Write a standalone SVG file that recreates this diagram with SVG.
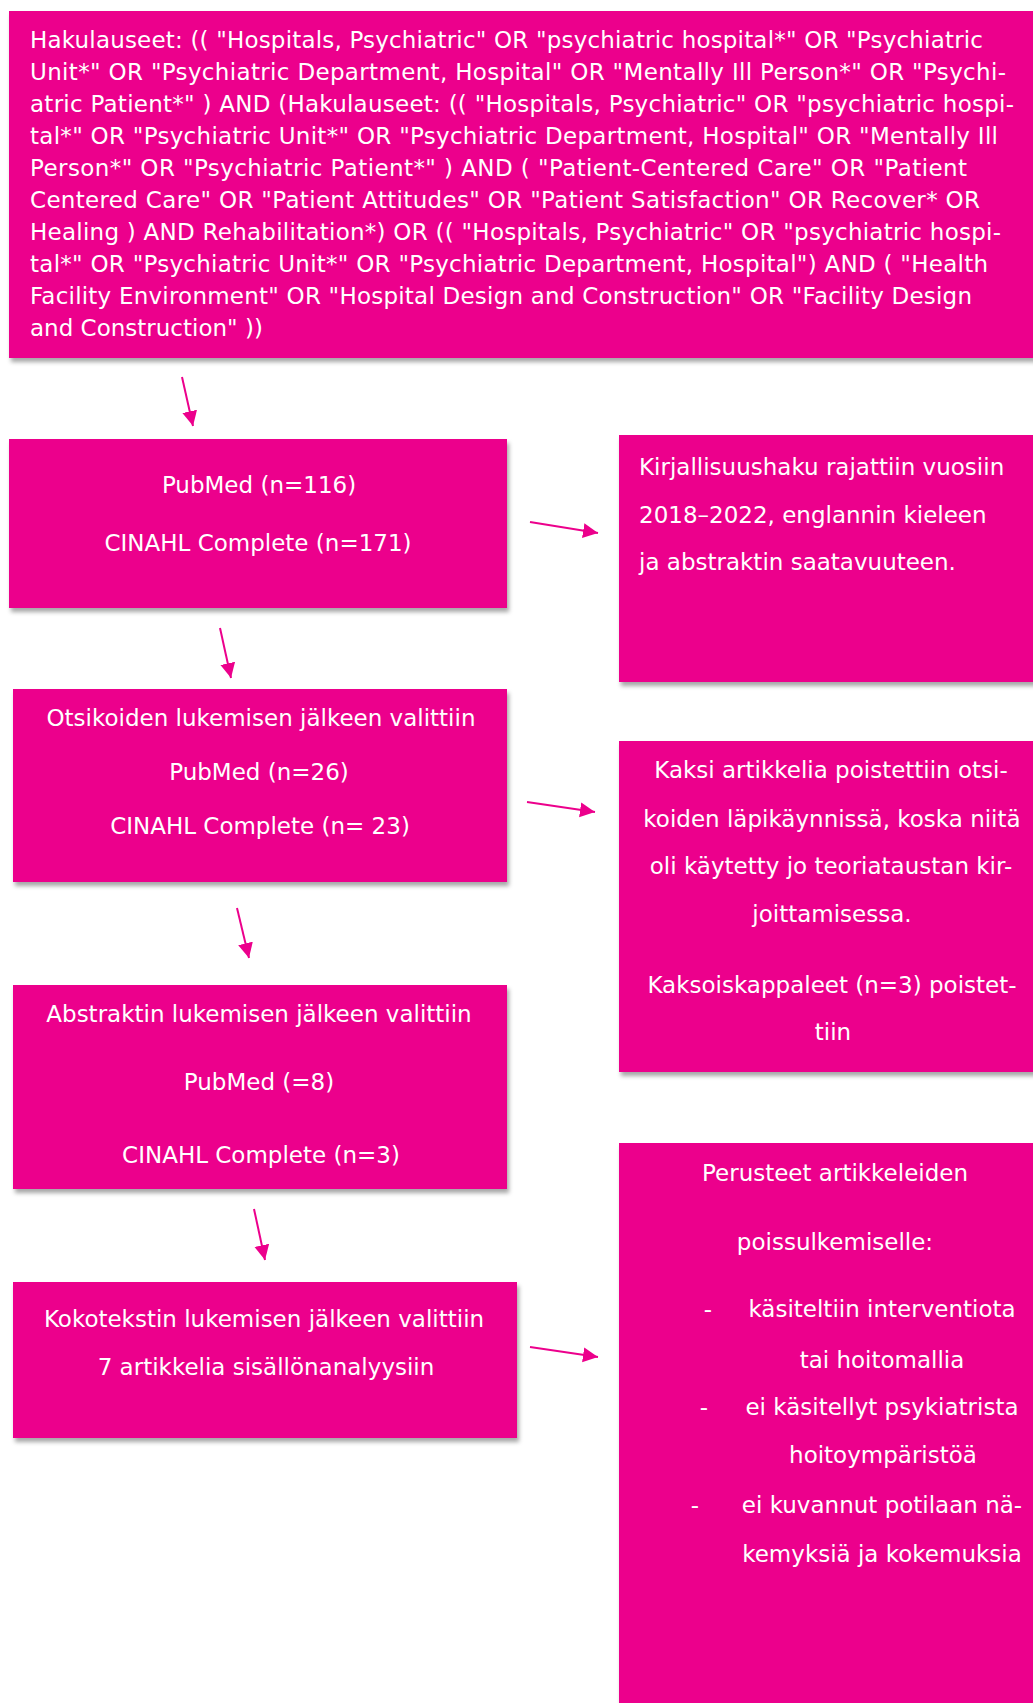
<svg xmlns="http://www.w3.org/2000/svg" width="1033" height="1703" viewBox="0 0 1033 1703">
<style>
.box{fill:#EC008C;filter:url(#sh);}
text{font-family:"DejaVu Sans","Verdana",sans-serif;font-size:23px;fill:#FFFFFF;}
.c{text-anchor:middle;}
.edge{stroke:#EC008C;stroke-width:2;fill:none;marker-end:url(#ah);}
</style>
<defs>
<filter id="sh" x="-5%" y="-5%" width="115%" height="120%">
<feDropShadow dx="2" dy="4" stdDeviation="2" flood-color="#000000" flood-opacity="0.35"/>
</filter>
<marker id="ah" markerUnits="userSpaceOnUse" markerWidth="16" markerHeight="16" refX="15" refY="7.5" orient="auto">
<path d="M0,0 L15,7.5 L0,15 Z" fill="#EC008C"/>
</marker>
</defs>
<rect width="1033" height="1703" fill="#FFFFFF"/>

<g id="search">
<rect class="box" x="9" y="11" width="1030" height="347"/>
<text x="30" y="47.5" textLength="953" lengthAdjust="spacing">Hakulauseet: (( "Hospitals, Psychiatric" OR "psychiatric hospital*" OR "Psychiatric</text>
<text x="30" y="79.6" textLength="976" lengthAdjust="spacing">Unit*" OR "Psychiatric Department, Hospital" OR "Mentally Ill Person*" OR "Psychi-</text>
<text x="30" y="111.7" textLength="984" lengthAdjust="spacing">atric Patient*" ) AND (Hakulauseet: (( "Hospitals, Psychiatric" OR "psychiatric hospi-</text>
<text x="30" y="143.8" textLength="968" lengthAdjust="spacing">tal*" OR "Psychiatric Unit*" OR "Psychiatric Department, Hospital" OR "Mentally Ill</text>
<text x="30" y="175.9" textLength="937" lengthAdjust="spacing">Person*" OR "Psychiatric Patient*" ) AND ( "Patient-Centered Care" OR "Patient</text>
<text x="30" y="208" textLength="950" lengthAdjust="spacing">Centered Care" OR "Patient Attitudes" OR "Patient Satisfaction" OR Recover* OR</text>
<text x="30" y="240.1" textLength="971" lengthAdjust="spacing">Healing ) AND Rehabilitation*) OR (( "Hospitals, Psychiatric" OR "psychiatric hospi-</text>
<text x="30" y="272.2" textLength="958" lengthAdjust="spacing">tal*" OR "Psychiatric Unit*" OR "Psychiatric Department, Hospital") AND ( "Health</text>
<text x="30" y="304.3" textLength="942" lengthAdjust="spacing">Facility Environment" OR "Hospital Design and Construction" OR "Facility Design</text>
<text x="30" y="336.4">and Construction" ))</text>
</g>

<g id="databases">
<rect class="box" x="9" y="439" width="498" height="169"/>
<text class="c" x="259" y="493">PubMed (n=116)</text>
<text class="c" x="258" y="551">CINAHL Complete (n=171)</text>
</g>

<g id="limits">
<rect class="box" x="619" y="435" width="420" height="247"/>
<text x="639" y="475">Kirjallisuushaku rajattiin vuosiin</text>
<text x="639" y="523">2018–2022, englannin kieleen</text>
<text x="639" y="570">ja abstraktin saatavuuteen.</text>
</g>

<g id="titles">
<rect class="box" x="13" y="689" width="494" height="193"/>
<text class="c" x="261" y="726">Otsikoiden lukemisen jälkeen valittiin</text>
<text class="c" x="259" y="780">PubMed (n=26)</text>
<text class="c" x="260" y="834">CINAHL Complete (n= 23)</text>
</g>

<g id="removed">
<rect class="box" x="619" y="741" width="420" height="331"/>
<text class="c" x="831" y="778">Kaksi artikkelia poistettiin otsi-</text>
<text class="c" x="832" y="827">koiden läpikäynnissä, koska niitä</text>
<text class="c" x="831" y="874">oli käytetty jo teoriataustan kir-</text>
<text class="c" x="832" y="922">joittamisessa.</text>
<text class="c" x="832" y="993">Kaksoiskappaleet (n=3) poistet-</text>
<text class="c" x="833" y="1040">tiin</text>
</g>

<g id="abstracts">
<rect class="box" x="13" y="985" width="494" height="204"/>
<text class="c" x="259" y="1022">Abstraktin lukemisen jälkeen valittiin</text>
<text class="c" x="259" y="1090">PubMed (=8)</text>
<text class="c" x="261" y="1163">CINAHL Complete (n=3)</text>
</g>

<g id="exclusion">
<rect class="box" x="619" y="1143" width="420" height="570"/>
<text class="c" x="835" y="1181">Perusteet artikkeleiden</text>
<text class="c" x="835" y="1250">poissulkemiselle:</text>
<text class="c" x="708" y="1317">-</text>
<text class="c" x="882" y="1317">käsiteltiin interventiota</text>
<text class="c" x="882" y="1368">tai hoitomallia</text>
<text class="c" x="704" y="1415">-</text>
<text class="c" x="882" y="1415">ei käsitellyt psykiatrista</text>
<text class="c" x="883" y="1463">hoitoympäristöä</text>
<text class="c" x="695" y="1513">-</text>
<text class="c" x="882" y="1513">ei kuvannut potilaan nä-</text>
<text class="c" x="882" y="1562">kemyksiä ja kokemuksia</text>
</g>

<g id="fulltext">
<rect class="box" x="13" y="1282" width="504" height="156"/>
<text class="c" x="264" y="1327">Kokotekstin lukemisen jälkeen valittiin</text>
<text class="c" x="266" y="1375">7 artikkelia sisällönanalyysiin</text>
</g>

<g id="connectors">
<line class="edge" x1="182" y1="377" x2="193" y2="426"/>
<line class="edge" x1="530" y1="522" x2="598" y2="533"/>
<line class="edge" x1="220" y1="628" x2="231" y2="678"/>
<line class="edge" x1="527" y1="802" x2="595" y2="812"/>
<line class="edge" x1="237" y1="908" x2="249" y2="958"/>
<line class="edge" x1="254" y1="1209" x2="265" y2="1260"/>
<line class="edge" x1="530" y1="1347" x2="598" y2="1357"/>
</g>
</svg>
